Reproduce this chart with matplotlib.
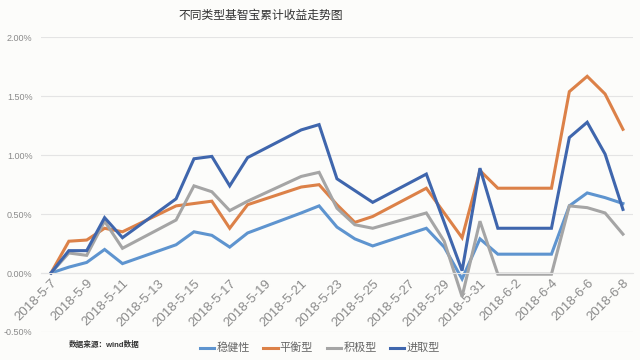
import pandas as pd
import matplotlib.pyplot as plt
from matplotlib.ticker import FuncFormatter, FixedLocator, FixedFormatter
import matplotlib.dates as mdates

plt.rcParams['font.family'] = ['Liberation Sans', 'Noto Sans CJK SC', 'DejaVu Sans']

# Trading days (weekends skipped, axis is calendar based)
dates = [
    "2018-05-07", "2018-05-08", "2018-05-09", "2018-05-10", "2018-05-11",
    "2018-05-14", "2018-05-15", "2018-05-16", "2018-05-17", "2018-05-18",
    "2018-05-21", "2018-05-22", "2018-05-23", "2018-05-24", "2018-05-25",
    "2018-05-28", "2018-05-29", "2018-05-30", "2018-05-31", "2018-06-01",
    "2018-06-04", "2018-06-05", "2018-06-06", "2018-06-07", "2018-06-08",
]

# cumulative return, %
wenjian = [0, 0.05, 0.09, 0.20, 0.08, 0.24, 0.35, 0.32, 0.22, 0.34,
           0.51, 0.57, 0.39, 0.29, 0.23, 0.38, 0.22, -0.05, 0.29, 0.16,
           0.16, 0.57, 0.68, 0.64, 0.59]
pingheng = [0, 0.27, 0.28, 0.38, 0.35, 0.57, 0.59, 0.61, 0.38, 0.58,
            0.73, 0.75, 0.58, 0.43, 0.48, 0.72, 0.51, 0.30, 0.87, 0.72,
            0.72, 1.54, 1.67, 1.52, 1.22]
jiji = [0, 0.17, 0.15, 0.44, 0.21, 0.45, 0.74, 0.69, 0.53, 0.61,
        0.82, 0.855, 0.55, 0.41, 0.38, 0.51, 0.27, -0.20, 0.44, -0.01,
        -0.01, 0.57, 0.555, 0.51, 0.33]
jinqu = [0, 0.19, 0.19, 0.47, 0.30, 0.63, 0.97, 0.99, 0.74, 0.98,
         1.215, 1.26, 0.80, 0.70, 0.60, 0.84, 0.43, 0.02, 0.89, 0.38,
         0.38, 1.15, 1.28, 1.01, 0.54]

tick_dates = pd.date_range("2018-05-07", "2018-06-08", freq="2D")
tick_labels = [f"{d.year}-{d.month}-{d.day}" for d in tick_dates]
y_ticks = [-0.5, 0, 0.5, 1.0, 1.5, 2.0]

series = [
    ("稳健性", wenjian, "#5e94cf"),
    ("平衡型", pingheng, "#dc8148"),
    ("积极型", jiji, "#a5a5a5"),
    ("进取型", jinqu, "#3f66ad"),
]

x = mdates.date2num(pd.to_datetime(dates).to_pydatetime())
xt = mdates.date2num(tick_dates.to_pydatetime())

bg = "#fcfcfa"
fig = plt.figure(figsize=(6.4, 3.6), dpi=100, facecolor=bg)
ax = fig.add_axes([0.064, 0.078, 0.925, 0.818], facecolor=bg)

for name, vals, color in series:
    ax.plot(x, vals, color=color, lw=2.2, label=name, solid_joinstyle="miter")

ax.set_ylim(-0.5, 2.0)
ax.set_xlim(x[0] - 0.56, x[-1] + 0.56)
ax.set_yticks(y_ticks)
ax.yaxis.set_major_formatter(FuncFormatter(lambda v, p: f"{v:.2f}%"))
ax.xaxis.set_major_locator(FixedLocator(xt))
ax.xaxis.set_major_formatter(FixedFormatter(tick_labels))

ax.grid(axis="y", color="#e4e4e4", lw=0.8)
ax.set_axisbelow(True)
for s in ["top", "right", "left"]:
    ax.spines[s].set_visible(False)
ax.spines["bottom"].set_position(("data", 0))
ax.spines["bottom"].set_color("#e4e4e4")
ax.tick_params(axis="both", length=0, colors="#8a8a8a")
ax.tick_params(axis="y", labelsize=6.5, pad=6)
ax.tick_params(axis="x", labelsize=9.5, pad=3, labelrotation=45)
plt.setp(ax.get_xticklabels(), ha="right", rotation_mode="anchor")

fig.text(0.408, 0.955, "不同类型基智宝累计收益走势图", ha="center", va="center",
         fontsize=8.5, color="#333333")
fig.text(0.107, 0.042, "数据来源：wind数据", ha="left", va="center",
         fontsize=5.5, fontweight="bold", color="#333333")
fig.legend(loc="center", bbox_to_anchor=(0.5, 0.033), ncol=4, frameon=False,
           fontsize=8, handlelength=1.3, handletextpad=0.2, columnspacing=1.2,
           labelcolor="#666666")

fig.savefig("out.png", dpi=100, facecolor=bg)
